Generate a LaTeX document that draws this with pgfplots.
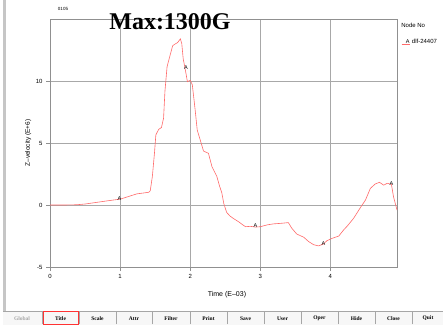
\documentclass[border=0pt]{standalone}
\usepackage{fontspec}
\setmainfont{Liberation Sans}
\newfontfamily\serifb{Liberation Serif}
\usepackage{pgfplots}
\pgfplotsset{compat=1.18}
\definecolor{curvered}{HTML}{FF6A6A}
\definecolor{gridgray}{HTML}{A8A8A8}
\definecolor{axgray}{HTML}{909090}

\pgfplotstableread{
x y
0.00 0.00
0.20 0.00
0.38 0.02
0.50 0.08
0.65 0.20
0.80 0.32
0.90 0.40
1.00 0.47
1.10 0.65
1.24 0.90
1.35 0.98
1.41 1.03
1.43 1.15
1.46 2.30
1.49 4.17
1.51 5.65
1.55 6.10
1.59 6.25
1.62 7.00
1.64 9.20
1.67 11.15
1.70 11.80
1.75 12.85
1.79 13.00
1.82 13.10
1.86 13.40
1.88 13.00
1.90 11.80
1.94 10.60
1.96 9.95
2.00 10.05
2.03 9.70
2.07 7.70
2.10 6.05
2.14 5.30
2.19 4.35
2.26 4.17
2.31 3.10
2.38 2.30
2.42 1.50
2.45 1.00
2.48 0.10
2.52 -0.60
2.57 -0.90
2.62 -1.10
2.69 -1.35
2.75 -1.60
2.79 -1.75
2.86 -1.72
2.93 -1.78
3.00 -1.75
3.10 -1.60
3.19 -1.52
3.29 -1.48
3.40 -1.42
3.45 -1.88
3.52 -2.34
3.62 -2.60
3.69 -2.95
3.76 -3.20
3.83 -3.30
3.90 -3.15
3.95 -2.88
4.02 -2.70
4.12 -2.50
4.19 -2.00
4.24 -1.70
4.33 -1.08
4.43 -0.19
4.50 0.40
4.57 1.34
4.64 1.70
4.70 1.83
4.76 1.60
4.81 1.75
4.87 1.67
4.90 0.67
4.95 -0.40
}\curvedata

\pgfplotstableread{
x y
0.99 0.55
1.94 11.05
2.93 -1.65
3.90 -3.12
4.87 1.75
}\markdata

\begin{document}
\begin{tikzpicture}[x=1pt,y=1pt]
\useasboundingbox (0,0) rectangle (443,325);
\fill[white] (0,0) rectangle (443,325);
% window border
\fill[gray!45] (3,14) rectangle (5.5,325);
% bottom button bar
\fill[gray!6] (3,0) rectangle (443,13.5);
\draw[gray!70] (3,14) -- (443,14);
\foreach \sx in {42,79,116,152,190,227,264,301,338,375,412}{
  \draw[gray!70] (\sx,1) -- (\sx,13);
}
\draw[red!80, line width=0.8pt] (43.5,0.5) rectangle (78,13.2);
\begin{scope}[every node/.style={font=\serifb\bfseries\fontsize{5.5}{6}\selectfont, inner sep=0pt}]
\node[gray!70] at (22,6.5) {Global};
\node at (60.5,6.5) {Title};
\node at (97.5,6.5) {Scale};
\node at (134,6.5) {Attr};
\node at (171,6.5) {Filter};
\node at (208.5,6.5) {Print};
\node at (245.5,6.5) {Save};
\node at (282.5,6.5) {User};
\node at (319.5,6.5) {Oper};
\node at (356.5,6.5) {Hide};
\node at (393.5,6.5) {Close};
\node at (428,6.5) {Quit};
\end{scope}

\begin{axis}[
  at={(50pt,58pt)}, anchor=south west,
  scale only axis, width=347pt, height=248pt,
  xmin=0, xmax=4.95, ymin=-5, ymax=15,
  xtick={0,1,2,3,4}, ytick={-5,0,5,10},
  grid=major,
  major grid style={gridgray, line width=0.5pt},
  axis line style={axgray, line width=0.6pt},
  tick style={axgray, line width=0.5pt},
  tick align=outside, major tick length=4pt,
  xtick pos=bottom, ytick pos=left,
  /pgf/number format/assume math mode=true,
  tick label style={font=\fontsize{6}{7}\selectfont},
  xlabel={Time (E--03)},
  ylabel={Z--velocity (E+6)},
  xlabel style={font=\fontsize{7}{8}\selectfont, at={(axis description cs:0.51,-0.113)}, anchor=center},
  ylabel style={font=\fontsize{6.5}{7}\selectfont, at={(axis description cs:-0.063,0.5)}, anchor=center},
  legend style={draw=none, fill=none, at={(axis description cs:1.012,0.907)},
    anchor=west, inner sep=0pt, font=\fontsize{6}{7}\selectfont},
  legend cell align=left,
  clip=false,
]
\addplot[curvered, line width=0.6pt, mark=none,
  legend image code/.code={
    \draw[curvered, line width=0.6pt] (0pt,-2.5pt) -- (8pt,-2.5pt);
    \node[black, font=\fontsize{5.5}{6}\selectfont, inner sep=0pt] at (4pt,0pt) {A};}]
  table[x=x,y=y] {\curvedata};
\addlegendentry{dlf-24407}
\addplot[draw=none, mark=none, forget plot,
  nodes near coords={A},
  every node near coord/.style={anchor=center, inner sep=0pt, black,
    font=\fontsize{5.5}{6}\selectfont}]
  table[x=x,y=y] {\markdata};
\node[anchor=west, inner sep=0pt, font=\fontsize{6}{7}\selectfont]
  at (axis description cs:1.012,0.976) {Node No};
\end{axis}

\node[inner sep=0pt, font=\fontsize{4.5}{5}\selectfont] at (63,316) {0105};
\node[anchor=base, inner sep=0pt, font=\serifb\bfseries\fontsize{24}{24}\selectfont]
  at (170,296) {Max:1300G};
\end{tikzpicture}
\end{document}
